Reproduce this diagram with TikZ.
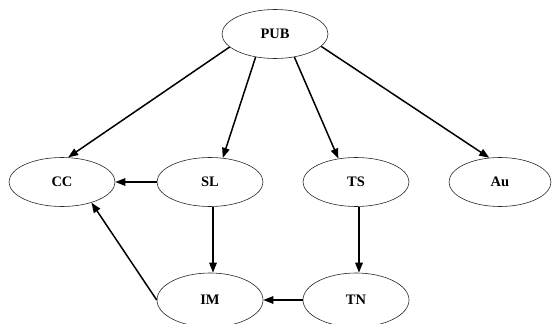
\documentclass[tikz,border=0pt]{standalone}
\usepackage{fontspec}
\setmainfont{Liberation Serif}
\usetikzlibrary{shapes.geometric,arrows.meta}
\begin{document}
\begin{tikzpicture}[x=1pt,y=-1pt,
  vnode/.style={ellipse,draw=black!85,line width=0.6pt,minimum width=106pt,minimum height=49pt,inner sep=0pt,font=\fontsize{14.5}{16}\selectfont\bfseries},
  edge/.style={line width=1.5pt,-{Triangle[length=10pt,width=7.5pt]}}]
\useasboundingbox (0,0) rectangle (552,324);
\node[vnode] (PUB) at (275,34) {PUB};
\node[vnode] (CC) at (62,182) {CC};
\node[vnode] (SL) at (210,182) {SL};
\node[vnode] (TS) at (356,182) {TS};
\node[vnode,minimum width=102pt] (Au) at (500,182) {Au};
\node[vnode,minimum height=54pt] (IM) at (210,300) {IM};
\node[vnode,minimum height=54pt] (TN) at (356,300) {TN};
\draw[edge] (PUB.196) -- (CC.76);
\draw[edge] (PUB.230) -- (SL.62);
\draw[edge] (PUB.310) -- (TS.127);
\draw[edge] (PUB.345) -- (Au.114);
\draw[edge] (SL.west) -- (CC.east);
\draw[edge] ([xshift=3pt]SL.south) -- ([xshift=3pt]IM.north);
\draw[edge] ([xshift=3pt]TS.south) -- ([xshift=3pt]TN.north);
\draw[edge] (TN.west) -- (IM.east);
\draw[edge] (IM.west) -- (CC.325);
\end{tikzpicture}
\end{document}
